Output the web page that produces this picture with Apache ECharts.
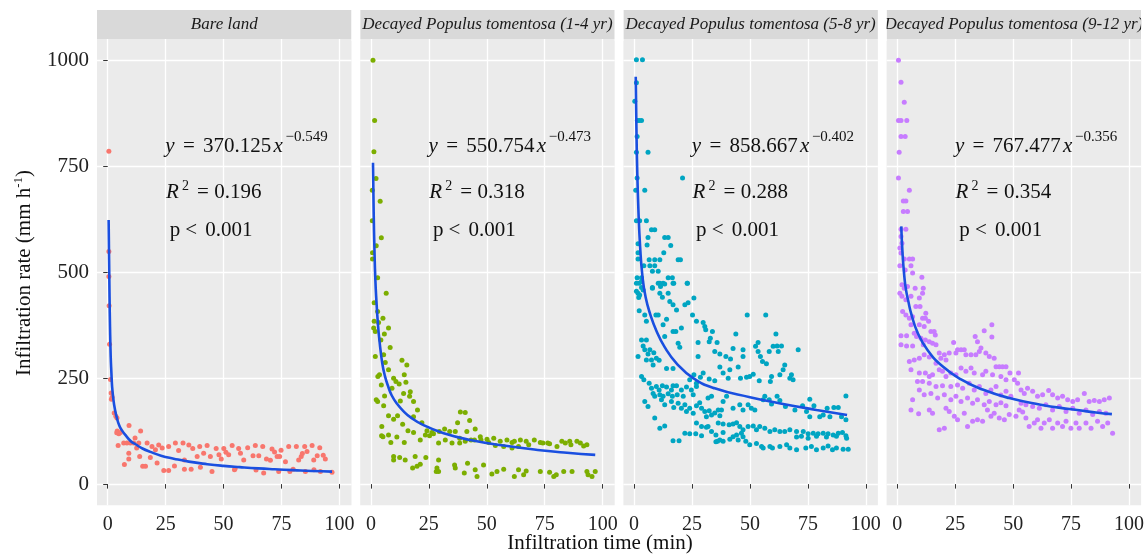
<!DOCTYPE html>
<html><head><meta charset="utf-8">
<script src="https://cdn.jsdelivr.net/npm/echarts@6/dist/echarts.min.js"></script>
<style>html,body{margin:0;padding:0;background:#fff}#c{width:1148px;height:559px}</style>
</head><body><div id="c"></div>
<script>
const panelTitles = ['Bare land','Decayed Populus tomentosa (1-4 yr)','Decayed Populus tomentosa (5-8 yr)','Decayed Populus tomentosa (9-12 yr)'];
const xTicks = [0,25,50,75,100];
const yTicks = [0,250,500,750,1000];
const eqCoef = ['370.125','550.754','858.667','767.477'];
const eqExp = ['\u22120.549','\u22120.473','\u22120.402','\u22120.356'];
const r2Vals = ['0.196','0.318','0.288','0.354'];
const pText = '0.001';

const bareLand = [[0.5,785],[0.5,549],[0.5,490],[0.6,421],[0.8,330],[1.2,247],[1.5,215],[1.6,200],[1.9,205],[2.8,168],[3.5,160],[4,156],[4.1,125],[4.8,119],[5.5,122],[9.2,138],[14.2,125],[4.5,91],[6.9,97],[8.3,97],[9.8,97],[11.2,97],[13.4,97],[17,97],[19.1,89],[20.6,81],[23.5,85],[26.3,89],[29.2,97],[32.5,97],[9.1,73],[9.1,59],[7.2,46],[13.8,65],[15.1,42],[16.3,42],[18.4,63],[21.3,50],[24.2,32],[26.3,32],[28.8,43],[30.6,79],[33.1,57],[33.1,35],[36,35],[36.7,84],[38.6,65],[39.7,89],[42.9,91],[41.4,73],[44.3,65],[45,30],[46.8,84],[48,69],[49,59],[50.1,84],[52.2,69],[53.7,91],[54.7,34],[56.5,84],[57.3,73],[58.7,57],[60.4,86],[62.7,67],[63.7,91],[65.2,67],[66.9,89],[67.3,26],[68.5,59],[70.2,56],[70.9,83],[73.1,65],[74.2,65],[74.8,80],[73.8,30],[76.7,53],[78.1,89],[78.6,30],[81.4,89],[82.4,57],[83.5,65],[85.3,30],[85,89],[86,77],[88.2,91],[88.9,57],[90.4,67],[91.5,86],[91.8,30],[93.9,59],[96.8,28],[11.8,109],[3.9,121],[12.5,85],[22,92],[35,92],[51,75],[72,76],[84,72],[93,68],[40,40],[55,37],[64,33],[80,35],[89,34]];

const decay14 = [[0.9,1000],[1.6,858],[1.3,784],[2.2,721],[0.6,693],[4,667],[0.6,621],[4.5,581],[2.3,562],[0.7,546],[0.7,531],[2.9,487],[6.6,450],[1.4,428],[2.9,407],[1.4,384],[3.3,381],[5.2,391],[1.2,368],[1.9,360],[5.8,354],[7.6,368],[4.3,340],[5.5,305],[8.3,322],[1.9,301],[6.2,287],[13.4,292],[15.5,281],[7.6,270],[3.7,258],[3,254],[9.8,250],[14.4,258],[10.8,242],[12.2,236],[15.1,240],[4.5,234],[9.1,226],[14.1,214],[17,218],[5.9,208],[2.3,199],[2.9,195],[18.4,195],[16.7,207],[5.5,185],[12.7,196],[20.1,175],[7.6,161],[9.8,153],[11.5,161],[18.4,159],[38.6,170],[40.7,169],[37.4,145],[42.6,150],[13.7,141],[22,145],[16,126],[18.4,122],[4.7,136],[45,130],[41.4,124],[24.2,126],[26.3,122],[29.5,124],[31.8,130],[34,124],[36.4,124],[21.3,104],[23.5,116],[25.3,114],[27,119],[29.2,97],[32.1,104],[35,97],[38.3,108],[38.3,97],[40.7,101],[43.2,104],[44.7,104],[47.2,112],[47.5,104],[50.1,106],[53,108],[55.8,101],[58.7,104],[60.9,98],[61.9,101],[64.5,104],[67,101],[68.1,93],[70.5,104],[73.1,98],[74.2,97],[76.3,97],[77.1,95],[80.3,89],[82.4,101],[83.9,97],[85.8,101],[86.3,93],[88.9,101],[90.4,97],[91.8,90],[93.2,93],[50.8,98],[53.7,91],[57.3,89],[60.9,85],[63.7,89],[4.6,114],[5.2,112],[7.6,116],[11.2,111],[8.6,98],[14.4,98],[9.8,65],[9.8,57],[12.4,63],[14.8,57],[19.1,65],[18,38],[19.9,42],[21.3,47],[23.7,63],[29.2,57],[28.5,38],[28.2,30],[29.2,30],[36.1,45],[36.4,38],[40.3,26],[41.7,49],[45,34],[45.8,18],[48.6,45],[52.2,24],[54.4,30],[57.3,35],[61.9,18],[63.7,34],[65.9,22],[67,31],[73.1,30],[77.1,28],[78.9,18],[80,22],[83.2,30],[86.8,30],[93.2,30],[93.7,22],[95.4,18],[96.8,30]];

const decay58 = [[1,1001],[3.6,1001],[1,947],[0.3,903],[2.2,858],[3.2,858],[1.4,858],[1.3,820],[1,783],[6,783],[1.3,722],[20.9,722],[0.7,693],[4.6,693],[1,621],[2.4,621],[5.3,621],[7.5,600],[8.9,600],[6,582],[13.2,582],[14.7,582],[1.7,567],[5.6,564],[15.8,563],[1.7,546],[12.8,546],[1.7,531],[6.5,529],[8.9,529],[11.1,529],[19,529],[20,529],[4.2,515],[6.8,515],[8.9,515],[7.9,502],[10.4,502],[1.3,487],[3.2,487],[14.7,487],[16.5,487],[2.2,474],[11.1,474],[12.5,474],[17.1,474],[23,474],[3.2,464],[7.9,464],[1,455],[2,440],
[1,474],[3.2,478],[7.9,462],[10.4,474],[11.4,466],[13.2,472],[16.8,474],[22.9,474],[1.7,450],[2.4,446],[3.9,458],[11.1,450],[12.2,441],[14.7,450],[15.4,431],[16.8,423],[18.3,411],[21.9,423],[23.3,428],[25.8,439],[2.2,409],[4.6,399],[5.3,384],[9.4,399],[10.4,399],[12.5,376],[14,389],[16.8,360],[18,360],[20.4,368],[25.2,399],[26.9,384],[29.8,381],[30.5,372],[30.9,364],[33.8,360],[48.8,399],[56.8,399],[3.2,340],[5.3,340],[13.2,348],[19,332],[32.9,344],[32.4,336],[35.8,334],[27.6,334],[43.9,354],[53.5,334],[61.2,354],[3.9,326],[4.6,317],[6.8,317],[6,307],[8.5,310],[9.6,297],[7.5,293],[19.7,323],[1.7,301],[5.3,293],[8.2,281],[10.8,292],[14,273],[16.8,273],[27.6,301],[34.8,313],[37,307],[39.6,301],[41.6,295],[42.7,320],[47,317],[47,301],[52.4,325],[53.5,313],[54.5,301],[55.4,289],[57.1,284],[58.3,313],[60,325],[61.7,326],[63.6,326],[62.2,313],[70.8,317],[44.9,276],[37,276],[38.4,262],[41.3,270],[40.6,250],[45.9,250],[48.5,252],[49.9,254],[51.4,259],[54,244],[59.3,254],[58.8,242],[65,281],[64.3,270],[62.9,258],[67.9,258],[67.2,250],[68.6,246],[29.8,262],[28.6,252],[25.8,258],[24,246],[26.9,238],[32.4,248],[34.8,244],[3.2,254],[4.2,246],[6.5,238],[7.5,226],[9.6,230],[10.8,222],[12.2,232],[14,229],[16.1,222],[16.8,232],[18.3,232],[8.2,214],[8.9,207],[11.1,211],[12.5,207],[14.7,213],[16.5,207],[18.6,211],[20.4,222],[21.2,207],[22.6,229],[24.7,222],[25.5,211],[26.9,230],[4.6,195],[6,183],[11.8,199],[13.2,187],[16.1,195],[17.1,181],[19,191],[20.4,179],[21.9,187],[22.6,171],[24,179],[25.5,167],[26.9,185],[28.3,192],[29.1,179],[30.5,171],[31.2,159],[32.4,173],[33.4,163],[34.8,168],[36.3,175],[37,161],[37.7,175],[31.9,203],[33.4,207],[38.4,195],[39.9,207],[42.7,179],[45.6,187],[47,175],[49.2,187],[50.6,179],[52.1,175],[55.7,199],[56.4,207],[58.3,199],[59.3,189],[61.7,207],[62.9,197],[65.3,183],[69.4,175],[72.7,185],[74.4,171],[75.8,200],[77.6,185],[75.8,159],[80.1,159],[81.6,163],[83.3,179],[84.5,159],[86.2,181],[88.1,181],[89.5,159],[91.4,208],[91.4,152],[8.9,156],[11.1,132],[13.2,137],[21.9,120],[24,119],[26.6,119],[29.1,114],[31.2,134],[33.4,124],[35.3,116],[38.4,122],[16.8,102],[19.4,102],[26.9,144],[29.1,136],[31.9,136],[36.3,144],[38.4,142],[41,140],[42.7,142],[44.2,145],[45.6,136],[47,128],[49.2,136],[51.4,137],[52.8,128],[54.2,136],[56.4,132],[58.6,124],[60.7,128],[62.9,124],[65,124],[67.2,128],[70.1,124],[73,124],[75.1,119],[77.3,120],[79.4,119],[81.6,120],[83.7,119],[85.9,116],[88.1,120],[89.9,122],[91.4,114],[70.1,111],[72.2,113],[75.1,108],[78.7,113],[83,111],[87.3,113],[91.7,108],[37,104],[38.4,101],[41.3,106],[42.7,112],[44.9,104],[47,112],[48.2,101],[49.9,93],[52.8,96],[44.2,116],[46.3,120],[55,89],[55.7,85],[58.6,89],[59.7,85],[62.9,89],[65.8,93],[67.2,85],[70.1,81],[74.1,85],[76.5,89],[78.7,81],[81.6,85],[83.7,90],[85.6,81],[87.3,85],[90.2,82],[92.4,82],[35.3,100],[36,101]];

const decay912 = [[0.5,1000],[1.6,948],[3,901],[0.5,858],[1.6,858],[4.1,858],[1.6,820],[3.4,820],[0.8,783],[0.5,722],[5.2,693],[2.6,668],[3.7,668],[2.6,643],[4.4,643],[1.6,601],[3.7,601],[1.6,584],[2,568],[1.1,557],[1.6,545],[3,531],[5.2,531],[6.6,531],[1.1,515],[3.4,505],[5.9,515],[6.6,498],[10.6,488],[2,470],[3,462],[4.4,466],[7.7,462],[11.2,462],[10.9,450],[1.1,450],[2,443],[3.7,435],[5.9,443],[9.5,439],[8,419],[9.8,419],[12.3,403],[2.3,407],[3.7,399],[5.2,391],[6.6,395],[5.9,376],[10.9,391],[12.1,391],[13.5,384],[14.5,360],[15.9,360],[16.4,352],[9.5,376],[11.6,372],[7.3,356],[8.3,348],[10.2,344],[12.1,340],[1.6,350],[4,350],[1.6,329],[4,326],[6.6,326],[11.2,329],[13.8,336],[15.2,332],[16.7,329],[24.3,334],[27.5,317],[28.9,317],[29.6,305],[25.3,309],[26,317],[33.6,348],[34.6,336],[36.1,321],[37.5,362],[40.8,376],[40.8,347],[31.8,305],[33.9,305],[35.4,313],[38.2,309],[39.7,301],[41.8,297],[22.4,309],[20.3,305],[18.8,297],[18.1,309],[21,293],[42.6,277],[44,277],[45.4,277],[46.9,277],[16.7,285],[18.1,270],[19.5,266],[21,254],[23.1,262],[25.3,258],[27.5,274],[29.6,266],[31.8,274],[33.2,262],[36.8,258],[38.2,266],[41.1,258],[5.2,289],[7.3,293],[9.5,297],[11.6,305],[13.8,300],[5.9,270],[9.5,262],[12.1,262],[13.8,254],[15.2,258],[44.7,254],[46.9,246],[48.6,262],[50.5,246],[52.3,262],[51.9,238],[8.7,242],[10.9,242],[13.8,238],[16.7,230],[19.5,232],[23.1,230],[26,234],[28.2,226],[31,238],[33.2,222],[35.4,230],[38.2,214],[40.4,222],[42.6,230],[44.7,210],[46.9,219],[49,207],[9.5,222],[11.6,211],[14.5,214],[17.4,203],[20.3,211],[23.1,199],[25.3,207],[27.5,195],[30.3,203],[32.5,191],[34.6,199],[37.5,187],[39.7,195],[42.6,187],[44.7,192],[46.9,185],[6.6,199],[5.9,175],[9.2,166],[13.8,175],[15.2,167],[21,179],[22.4,171],[24.6,160],[26,152],[28.9,167],[30.3,136],[32.5,148],[34.6,152],[36.8,148],[38.9,175],[40.4,160],[41.8,167],[44,156],[46.2,152],[48.3,164],[18.1,128],[20.3,132],[51.2,160],[52.6,175],[54.1,170],[55.5,156],[56.9,136],[59.1,144],[60.5,152],[62,132],[63.4,144],[65.6,152],[67,132],[69.2,144],[71.3,136],[72.8,148],[74.9,132],[77.1,144],[78.5,132],[81.4,144],[83.6,132],[86.4,148],[88.6,136],[90.8,144],[92.9,120],[53.4,222],[54.8,214],[56.2,226],[58.4,219],[60.5,207],[62.7,211],[65.3,221],[67,211],[69.2,203],[71.3,207],[73.5,199],[75.7,195],[77.8,199],[80.7,214],[82.8,195],[85,197],[87.2,195],[89.3,199],[91.5,203],[53.4,191],[55.5,187],[58.4,183],[61.3,179],[64.1,187],[67,175],[69.9,183],[72.8,171],[75.7,179],[78.5,167],[81.4,175],[84.3,164],[87.2,171],[90,167]];

// fitted curves
const fitBare = [[0.4,623],[0.6,530],[0.8,440],[1.0,370],[1.3,300],[1.6,262],[1.9,230],[2.5,198],[3,180],[4,155],[5,138],[6,128],[7.6,116],[10,101],[12,94],[15,84],[18.4,76],[23,67],[28.5,60],[35,53],[43,47],[50,43],[57,40],[65,37],[72,35],[80,33],[88,31],[96.8,29.5]];
const fit14 = [[0.9,758],[1.2,640],[1.5,560],[1.9,485],[2.4,430],[3,380],[3.7,338],[4.9,285],[6,256],[7.6,228],[9,209],[11.2,190],[14,172],[17,158],[22.7,139],[31.4,120],[42.9,104],[57.3,91],[73.1,80],[84.6,74],[96.8,69]];
const fit58 = [[0.7,961],[1,840],[1.3,750],[1.9,640],[2.6,560],[3.6,490],[5,440],[7,400],[9.6,362],[13.2,323],[18.3,285],[25.5,250],[34.8,226],[50,205],[64.3,189],[78.7,175],[91.9,163]];
const fit912 = [[1.7,608],[2.3,540],[3,492],[3.7,460],[5,425],[5.9,404],[8.7,358],[13.1,316],[19.5,278],[27.5,247],[36.8,223],[48.3,203],[61.3,188],[74.2,177],[85.7,169],[92.6,165]];

const scatterSets = [bareLand, decay14, decay58, decay912];
const fitSets = [fitBare, fit14, fit58, fit912];
const pointColors = ['#F8766D','#7CAE00','#00A5C2','#C77CFF'];

// ---------- layout ----------
const PL = [97, 360.2, 623.4, 886.6], PW = 254.5, PT = 39, PH = 466.3;
const SERIF = '"Liberation Serif","Times New Roman",serif';
const chart = echarts.init(document.getElementById('c'), null, {renderer:'canvas'});

const grids = [], xAxes = [], yAxes = [], series = [], graphics = [];
function txt(x, y, s, size, italic) {
  return {type:'text', x:x, y:y, silent:true, z:100,
    style:{text:s, fill:'#111', font:(italic?'italic ':'')+size+'px '+SERIF,
      textAlign:'left', textVerticalAlign:'middle', verticalAlign:'middle'}};
}
for (let i = 0; i < 4; i++) {
  grids.push({left:PL[i], top:PT, width:PW, height:PH, show:true, backgroundColor:'#EBEBEB', borderWidth:0, containLabel:false, outerBoundsMode:'none'});
  xAxes.push({type:'value', gridIndex:i, min:-4.62, max:105.2, minInterval:25, maxInterval:25,
    axisLine:{show:false},
    axisTick:{show:true, length:4.5, lineStyle:{color:'#333', width:1}, customValues:xTicks},
    axisLabel:{customValues:xTicks, fontSize:20, fontFamily:SERIF, color:'#222', margin:9,
      formatter:v => xTicks.includes(v) ? String(v) : ''},
    splitLine:{show:true, lineStyle:{color:'#fff', width:1.3}}});
  yAxes.push({type:'value', gridIndex:i, min:-50, max:1050, minInterval:250, maxInterval:250,
    axisLine:{show:false},
    axisTick:{show:i===0, length:4.5, lineStyle:{color:'#333', width:1}, customValues:yTicks},
    axisLabel:{show:i===0, customValues:yTicks, fontSize:21, fontFamily:SERIF, color:'#222', margin:8,
      formatter:v => yTicks.includes(v) ? String(v) : ''},
    splitLine:{show:true, lineStyle:{color:'#fff', width:1.3}}});
  series.push({type:'scatter', xAxisIndex:i, yAxisIndex:i, data:scatterSets[i], symbolSize:5,
    itemStyle:{color:pointColors[i], opacity:1}, z:2, silent:true});
  series.push({type:'line', xAxisIndex:i, yAxisIndex:i, data:fitSets[i], smooth:0.5,
    showSymbol:false, symbol:'none', lineStyle:{color:'#1A4FE0', width:2.6}, z:3, silent:true});

  const L = PL[i];
  graphics.push({type:'rect', shape:{x:L, y:10, width:PW, height:29}, style:{fill:'#D9D9D9'}, silent:true, z:90});
  graphics.push({type:'text', x:L+PW/2, y:24.5, silent:true, z:95,
    style:{text:panelTitles[i], fill:'#1a1a1a', font:'italic 17px '+SERIF, textAlign:'center', textVerticalAlign:'middle', verticalAlign:'middle'}});
  // white gap to clip strip text overflow
  graphics.push({type:'rect', shape:{x:L+PW, y:8, width:(i<3 ? PL[i+1]-L-PW : 10), height:33}, style:{fill:'#fff'}, silent:true, z:97});
  if (i === 0) graphics.push({type:'rect', shape:{x:L-10, y:8, width:10, height:33}, style:{fill:'#fff'}, silent:true, z:97});
  graphics.push(txt(L+68.3, 146.5, 'y', 21, true));
  graphics.push(txt(L+86, 146.5, '=', 21, false));
  graphics.push(txt(L+106, 146.5, eqCoef[i], 21, false));
  graphics.push(txt(L+176.5, 146.5, 'x', 21, true));
  graphics.push(txt(L+188.5, 137.5, eqExp[i], 15, false));
  graphics.push(txt(L+69, 192, 'R', 21, true));
  graphics.push(txt(L+85, 186.5, '2', 14, false));
  graphics.push(txt(L+100, 192, '=', 21, false));
  graphics.push(txt(L+117.3, 192, r2Vals[i], 21, false));
  graphics.push(txt(L+72.7, 230.5, 'p', 21, false));
  graphics.push(txt(L+88.3, 230.5, '<', 21, false));
  graphics.push(txt(L+108.3, 230.5, pText, 21, false));
}
graphics.push({type:'text', x:600, y:543, silent:true, z:100,
  style:{text:'Infiltration time (min)', fill:'#111', font:'21px '+SERIF, textAlign:'center', textVerticalAlign:'middle', verticalAlign:'middle'}});
graphics.push({type:'text', x:24, y:273, rotation:Math.PI/2, silent:true, z:100,
  style:{text:'{a|Infiltration rate (mm h}{s|-1}{a|)}', textAlign:'center', textVerticalAlign:'middle', verticalAlign:'middle',
    rich:{a:{fontSize:21, fontFamily:SERIF, fill:'#111', color:'#111', lineHeight:24},
          s:{fontSize:13, fontFamily:SERIF, fill:'#111', color:'#111', lineHeight:13, verticalAlign:'top'}}}});

chart.setOption({animation:false, backgroundColor:'#fff', grid:grids, xAxis:xAxes, yAxis:yAxes, series:series, graphic:graphics});
</script></body></html>
